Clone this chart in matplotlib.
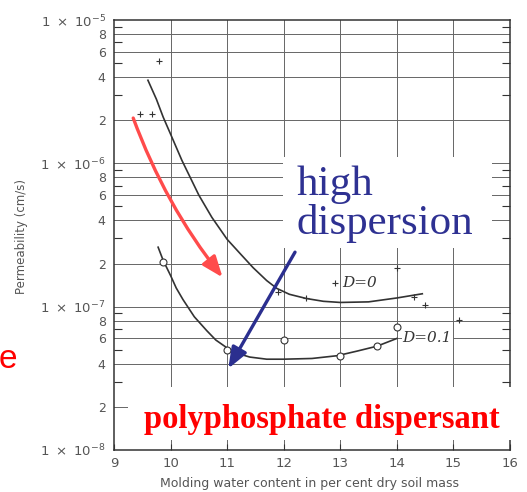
import matplotlib
matplotlib.use("Agg")
from matplotlib import pyplot as plt
from matplotlib.patches import Rectangle
from matplotlib.ticker import FixedLocator, NullFormatter
import numpy as np

# curva D=0
d0_x = [9.6, 9.75, 9.87, 10.0, 10.2, 10.5, 10.73, 11.0, 11.25, 11.46, 11.7, 11.88, 12.1, 12.4, 12.7, 13.0, 13.5, 14.0, 14.45]
d0_y = [3.8e-6, 2.8e-6, 2.1e-6, 1.6e-6, 1.05e-6, 6.0e-7, 4.2e-7, 2.95e-7, 2.3e-7, 1.87e-7, 1.52e-7, 1.34e-7, 1.22e-7, 1.14e-7, 1.09e-7, 1.07e-7, 1.08e-7, 1.15e-7, 1.23e-7]

# curva D=0.1
d1_x = [9.78, 9.87, 10.0, 10.1, 10.22, 10.42, 10.64, 10.8, 11.0, 11.2, 11.4, 11.7, 12.0, 12.5, 12.95, 13.3, 13.65, 14.0]
d1_y = [2.6e-7, 2.1e-7, 1.65e-7, 1.35e-7, 1.12e-7, 8.5e-8, 6.8e-8, 5.85e-8, 5.15e-8, 4.7e-8, 4.45e-8, 4.3e-8, 4.3e-8, 4.35e-8, 4.55e-8, 4.9e-8, 5.3e-8, 6.0e-8]

# pontos medidos
plus_x = [9.46, 9.67, 9.8, 11.9, 12.4, 12.9, 14.0, 14.3, 14.5, 15.1]
plus_y = [2.2e-6, 2.2e-6, 5.2e-6, 1.26e-7, 1.15e-7, 1.47e-7, 1.85e-7, 1.16e-7, 1.03e-7, 8.1e-8]
circ_x = [9.87, 11.0, 12.0, 13.0, 13.65, 14.0]
circ_y = [2.04e-7, 5.0e-8, 5.9e-8, 4.5e-8, 5.3e-8, 7.2e-8]

x_ticks = [9, 10, 11, 12, 13, 14, 15, 16]
y_major = [1e-8, 2e-8, 4e-8, 6e-8, 8e-8, 1e-7, 2e-7, 4e-7, 6e-7, 8e-7,
           1e-6, 2e-6, 4e-6, 6e-6, 8e-6, 1e-5]
y_major_labels = [r"$1\ \times\ 10^{-8}$", "2", "4", "6", "8", r"$1\ \times\ 10^{-7}$", "2", "4", "6", "8",
                  r"$1\ \times\ 10^{-6}$", "2", "4", "6", "8", r"$1\ \times\ 10^{-5}$"]
y_minor = [3e-8, 5e-8, 7e-8, 9e-8, 3e-7, 5e-7, 7e-7, 9e-7, 3e-6, 5e-6, 7e-6, 9e-6]

grey = "#555555"
dark = "#333333"

fig = plt.figure(figsize=(5.27, 4.92), dpi=100)
ax = fig.add_axes([0.2163, 0.0854, 0.7514, 0.8739])
ax.set_yscale("log")
ax.set_xlim(9, 16)
ax.set_ylim(1e-8, 1e-5)

ax.yaxis.set_major_locator(FixedLocator(y_major))
ax.set_yticklabels(y_major_labels)
ax.yaxis.set_minor_locator(FixedLocator(y_minor))
ax.yaxis.set_minor_formatter(NullFormatter())
ax.set_xticks(x_ticks)
ax.set_xticklabels([str(v) for v in x_ticks])

ax.tick_params(axis="y", which="both", direction="in", right=True, colors=dark, labelcolor=grey, labelsize=9, pad=6)
ax.tick_params(axis="y", which="major", length=0)
ax.tick_params(axis="y", which="minor", length=6, width=0.8)
ax.tick_params(axis="x", direction="in", length=4, width=0.8, colors=dark, labelcolor=grey, labelsize=9.5, pad=5)
for lbl in ax.get_yticklabels():
    if "times" in lbl.get_text():
        lbl.set_fontsize(9.5)

for v in y_major[1:-1]:
    ax.axhline(v, color="#666666", lw=0.7, zorder=0)
for v in x_ticks[1:-1]:
    ax.axvline(v, color="#666666", lw=0.7, zorder=0)
for s in ax.spines.values():
    s.set_color(dark)
    s.set_linewidth(1.1)

ax.plot(d0_x, d0_y, color=dark, lw=1.2, zorder=2)
ax.plot(d1_x, d1_y, color=dark, lw=1.2, zorder=2)
ax.plot(plus_x, plus_y, ls="none", marker="+", ms=5, mew=0.8, color=dark, zorder=3)
ax.plot(circ_x, circ_y, ls="none", marker="o", ms=5, mew=0.8, mfc="white", mec=dark, zorder=3)

ax.text(13.04, 1.47e-7, "D=0", fontsize=11, family="DejaVu Serif", style="italic", color=dark, va="center")
ax.text(14.1, 6.0e-8, "D=0.1", fontsize=11, family="DejaVu Serif", style="italic", color=dark, va="center",
        bbox=dict(facecolor="white", edgecolor="none", pad=0.5))

fig.text(22 / 527, 1 - 237 / 492, "Permeability (cm/s)", rotation=90, fontsize=8.5, color=grey, ha="center", va="center")
fig.text(309 / 527, 1 - 483 / 492, "Molding water content in per cent dry soil mass", fontsize=9, color=grey, ha="center", va="center")

# setas
ax.annotate("", xy=(10.92, 1.6e-7), xytext=(9.34, 2.07e-6),
            arrowprops=dict(arrowstyle="-|>,head_length=0.9,head_width=0.35", color="#ff4b4b", lw=2.4,
                            connectionstyle="arc3,rad=0.08", mutation_scale=14, shrinkA=0, shrinkB=0), zorder=4)
ax.annotate("", xy=(11.02, 3.7e-8), xytext=(12.2, 2.4e-7),
            arrowprops=dict(arrowstyle="-|>,head_length=0.9,head_width=0.35", color="#2b2f8f", lw=2.4,
                            mutation_scale=14, shrinkA=0, shrinkB=0), zorder=4)

# caixas brancas com texto
fig.patches.append(Rectangle((283 / 527, 1 - 248 / 492), 209 / 527, 91 / 492, transform=fig.transFigure,
                             facecolor="white", edgecolor="none", zorder=1))
fig.text(297 / 527, 1 - 195 / 492, "high", fontsize=31, family="Liberation Serif", color="#2e3192", va="baseline", zorder=3)
fig.text(297 / 527, 1 - 234 / 492, "dispersion", fontsize=31, family="Liberation Serif", color="#2e3192", va="baseline", zorder=3)

fig.patches.append(Rectangle((128 / 527, 1 - 440 / 492), 385 / 527, 53 / 492, transform=fig.transFigure,
                             facecolor="white", edgecolor="none", zorder=1))
fig.text(322 / 527, 1 - 428 / 492, "polyphosphate dispersant", fontsize=23.5, family="Liberation Serif",
         weight="bold", color="#ff0000", ha="center", va="baseline", zorder=3)

fig.text(17 / 527, 1 - 359 / 492, "e", fontsize=24, family="Liberation Sans", color="#ff0000", ha="right", va="center")

fig.savefig("out.png", dpi=100)
